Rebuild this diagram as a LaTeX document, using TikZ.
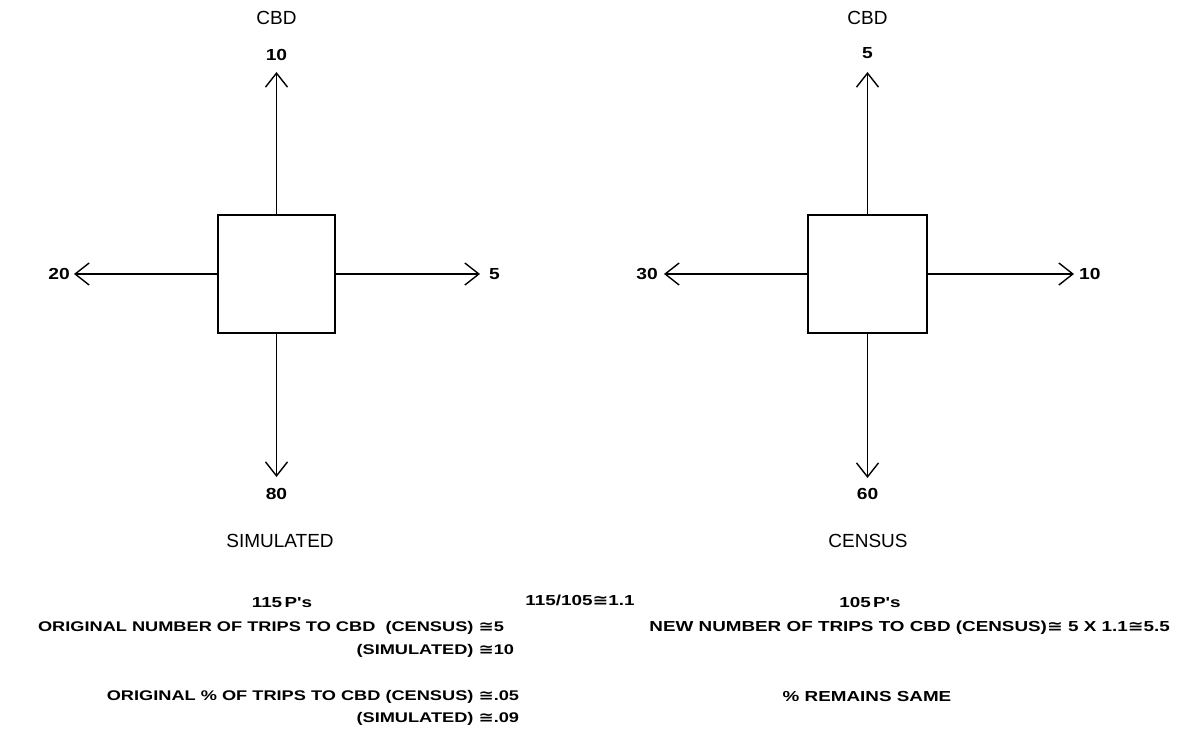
\documentclass[tikz,border=0pt]{standalone}
\usepackage{fontspec}
\setmainfont{Liberation Sans}
\newfontfamily\wfont[FakeStretch=1.3]{Liberation Sans}
\newfontfamily\nfont[FakeStretch=1.2]{Liberation Sans}
\newfontfamily\symfont[FakeStretch=1.3]{DejaVu Sans}
\usetikzlibrary{arrows.meta}
\newcommand{\apx}{{\symfont ≅}}
\begin{document}
\begin{tikzpicture}[x=1pt,y=-1pt,
  flow/.style={line width=1.4pt,-{Straight Barb[length=14pt,width=22pt,line width=1.4pt]}},
  zone/.style={draw,line width=1.5pt,minimum width=117pt,minimum height=118pt,inner sep=0pt},
  num/.style={font=\nfont\fontsize{16}{16}\selectfont\bfseries,inner sep=0pt},
  lbl/.style={font=\fontsize{19}{19}\selectfont,inner sep=0pt},
  txt/.style={font=\wfont\fontsize{14.5}{14.5}\selectfont\bfseries,inner sep=0pt},
  txs/.style={font=\wfont\fontsize{14}{14}\selectfont\bfseries,inner sep=0pt}]
\useasboundingbox (0,0) rectangle (1179,734);
% left diagram
\node[zone] (L) at (276.5,274) {};
\coordinate (Lu) at (276.5,72);
\coordinate (Ll) at (74,274);
\coordinate (Lr) at (480,274);
\coordinate (Ld) at (276.5,477);
\draw[flow] (L.north) -- (Lu);
\draw[flow] (L.west) -- (Ll);
\draw[flow] (L.east) -- (Lr);
\draw[flow] (L.south) -- (Ld);
\node[lbl] (Lcbd) at (276.5,18) {CBD};
\node[num] (Ln) at (276.5,55) {10};
\node[num,anchor=east] (Lw) at (70,274) {20};
\node[num,anchor=west] (Le) at (489,274) {5};
\node[num] (Ls) at (276.5,494) {80};
\node[lbl] (Lt) at (280,541) {SIMULATED};
% right diagram
\node[zone,minimum width=119pt] (R) at (867.5,274) {};
\coordinate (Ru) at (867.5,72);
\coordinate (Rl) at (664,274);
\coordinate (Rr) at (1074,274);
\coordinate (Rd) at (867.5,478);
\draw[flow] (R.north) -- (Ru);
\draw[flow] (R.west) -- (Rl);
\draw[flow] (R.east) -- (Rr);
\draw[flow] (R.south) -- (Rd);
\node[lbl] (Rcbd) at (867.5,18) {CBD};
\node[num] (Rn) at (867.5,53) {5};
\node[num,anchor=east] (Rw) at (658,274) {30};
\node[num,anchor=west] (Re) at (1079,274) {10};
\node[num] (Rs) at (867.5,494) {60};
\node[lbl] (Rt) at (868,541) {CENSUS};
% bottom texts
\node[txt] (p1) at (282,603) {115\,P's};
\node[txt] (ratio) at (580,600) {115/105\apx1.1};
\node[txt] (p2) at (870,603) {105\,P's};
\node[txs,anchor=east] (o1) at (494,628) {ORIGINAL NUMBER OF TRIPS TO CBD\ \ (CENSUS) \apx\rlap{5}};
\node[txs,anchor=east] (o2) at (494,651) {(SIMULATED) \apx\rlap{10}};
\node[txs,anchor=east] (o3) at (494,697) {ORIGINAL \% OF TRIPS TO CBD (CENSUS) \apx\rlap{.05}};
\node[txs,anchor=east] (o4) at (494,719) {(SIMULATED) \apx\rlap{.09}};
\node[txt,anchor=east] (n1) at (1170,628) {NEW NUMBER OF TRIPS TO CBD (CENSUS)\apx\ 5 X 1.1\apx5.5};
\node[txt] (n2) at (867,697) {\% REMAINS SAME};
\end{tikzpicture}
\end{document}
